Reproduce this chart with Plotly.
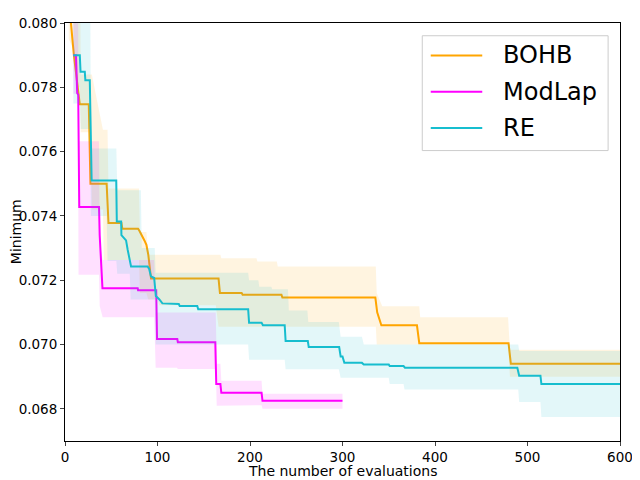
import plotly.graph_objects as go

# Best value found so far (median line) for each optimiser
bohb_x = [4, 6.4, 9.6, 11.8, 16, 25.7, 27.5, 45, 47, 61, 62, 79, 80.4, 86, 88, 90, 93, 166, 167.5, 191, 192, 234, 235,
          335.5, 337.5, 342, 380.5, 383, 479.5, 482, 600]
bohb_y = [0.0812, 0.0800, 0.0790, 0.0785, 0.07747, 0.07747, 0.0750, 0.0750, 0.07378, 0.07378, 0.0736, 0.0736,
          0.07354, 0.07323, 0.0731, 0.0728, 0.07205, 0.07205, 0.0716, 0.0716, 0.07155, 0.07155, 0.07146,
          0.07146, 0.0710, 0.0706, 0.0706, 0.07004, 0.07004, 0.0694, 0.0694]

modlap_x = [9, 11.8, 13.2, 14.3, 15.4, 36.8, 37.5, 38.6, 40.5, 78.6, 79, 98.6, 99.5, 121.4, 122, 162.5, 163.5,
            168, 169, 212.5, 213.5, 300]
modlap_y = [0.0790, 0.0790, 0.07782, 0.07777, 0.07428, 0.07428, 0.0734, 0.07263, 0.07175, 0.07175, 0.07169,
            0.07169, 0.07017, 0.07017, 0.07007, 0.07007, 0.06877, 0.06877, 0.0685, 0.0685, 0.06825, 0.06825]

re_x = [9, 16, 16.8, 21.4, 22, 26.8, 28.8, 55.4, 56, 60.7, 61, 64.3, 66, 67.8, 69.6, 71.4, 89.3, 91, 92.9, 96.4,
        98.2, 101.8, 105.3, 123, 124, 143, 144, 198, 199, 212.5, 214, 237.5, 238.5, 262.5, 263.5, 296.4, 298,
        300, 302, 321, 323, 350, 351, 366, 367.5, 489, 491, 514, 515, 600]
re_y = [0.0790, 0.0790, 0.07848, 0.07848, 0.07822, 0.07822, 0.0751, 0.0751, 0.07383, 0.07383, 0.0734, 0.0733,
        0.07324, 0.07294, 0.07263, 0.07243, 0.07243, 0.07235, 0.07212, 0.07207, 0.07151, 0.07141, 0.07128,
        0.07126, 0.0712, 0.0712, 0.0711, 0.0711, 0.07068, 0.07068, 0.0706, 0.0706, 0.07011, 0.07011, 0.06992,
        0.06992, 0.06963, 0.06963, 0.06943, 0.06943, 0.06938, 0.06938, 0.06933, 0.06933, 0.06928, 0.06928,
        0.06903, 0.06903, 0.06877, 0.06877]

# Shaded spread around each line (lower / upper edge)
bohb_band_x = [4, 12, 13, 16, 17, 28, 29, 41, 42, 46, 47, 80, 81, 88, 90, 100, 102, 163, 166, 168, 169, 207, 208,
               229, 230, 336, 337, 343, 383, 384, 479, 481, 600]
bohb_band_lo = [0.0795, 0.0790, 0.0780, 0.0780, 0.0766, 0.0766, 0.0742, 0.0742, 0.07263, 0.07263, 0.07263, 0.07263,
                0.0716, 0.0716, 0.0714, 0.0714, 0.07122, 0.07122, 0.07055, 0.07055, 0.07055, 0.07055, 0.07055,
                0.07055, 0.07055, 0.07055, 0.07, 0.07, 0.07, 0.07, 0.07, 0.0690, 0.0690]
bohb_band_hi = [0.0830, 0.0830, 0.0830, 0.0830, 0.0784, 0.0784, 0.0784, 0.07668, 0.07668, 0.07668, 0.07485, 0.07485,
                0.0735, 0.0735, 0.07279, 0.07279, 0.07279, 0.07279, 0.07279, 0.07279, 0.07268, 0.07268, 0.07258,
                0.07258, 0.07243, 0.07243, 0.0716, 0.07119, 0.07119, 0.07085, 0.07085, 0.06984, 0.06984]

modlap_band_x = [9, 14, 14.6, 36.7, 37.5, 40.7, 96.4, 98, 121, 122, 163, 164, 168, 169, 212.5, 213.5, 300]
modlap_band_lo = [0.0778, 0.0778, 0.07217, 0.07217, 0.0712, 0.07085, 0.07085, 0.06928, 0.06928, 0.06924,
                  0.06924, 0.0681, 0.0681, 0.06811, 0.06811, 0.0680, 0.0680]
modlap_band_hi = [0.0830, 0.0830, 0.07632, 0.07632, 0.0732, 0.07263, 0.07263, 0.0710, 0.0710, 0.0710, 0.0710,
                  0.0694, 0.0694, 0.06887, 0.06887, 0.06847, 0.06847]

re_band_x = [9, 16, 17, 27, 28, 45, 46, 55.5, 56.5, 70, 71, 82, 83, 97, 98, 198, 199, 209, 210, 223, 224, 237.5,
             238.5, 241, 242, 262, 263, 296, 298, 321, 323, 350, 351, 366, 367, 478, 479, 490, 491, 514, 515, 600]
re_band_lo = [0.0775, 0.0775, 0.0767, 0.0767, 0.0740, 0.0740, 0.0726, 0.0726, 0.0722, 0.0722, 0.0714, 0.0714,
              0.0714, 0.0714, 0.0700, 0.0700, 0.06953, 0.06953, 0.06953, 0.06953, 0.06953, 0.06953, 0.06923,
              0.06923, 0.06923, 0.06923, 0.06923, 0.06923, 0.06897, 0.06897, 0.06897, 0.06897, 0.06877, 0.06877,
              0.0686, 0.0686, 0.0686, 0.0686, 0.06821, 0.06821, 0.06775, 0.06775]
re_band_hi = [0.0830, 0.0830, 0.0830, 0.0830, 0.0761, 0.0761, 0.0761, 0.0761, 0.0748, 0.0748, 0.0748, 0.0748,
              0.0730, 0.0730, 0.07223, 0.07223, 0.0720, 0.0720, 0.0718, 0.0718, 0.07172, 0.07172, 0.07172,
              0.07172, 0.07106, 0.07106, 0.0707, 0.0707, 0.07024, 0.07024, 0.0700, 0.0700, 0.0700, 0.0700,
              0.0700, 0.0700, 0.0700, 0.0700, 0.0698, 0.0698, 0.0698, 0.0698]

names = ["BOHB", "ModLap", "RE"]
colors = ["#ffa500", "#ff00ff", "#17becf"]
fills = ["rgba(255,165,0,0.12)", "rgba(255,0,255,0.12)", "rgba(23,190,207,0.12)"]
lines = [(bohb_x, bohb_y), (modlap_x, modlap_y), (re_x, re_y)]
bands = [(bohb_band_x, bohb_band_lo, bohb_band_hi),
         (modlap_band_x, modlap_band_lo, modlap_band_hi),
         (re_band_x, re_band_lo, re_band_hi)]

fig = go.Figure()

for name, col, fc, (lx, ly), (bx, blo, bhi) in zip(names, colors, fills, lines, bands):
    fig.add_trace(go.Scatter(x=lx, y=ly, mode="lines", name=name,
                             line=dict(color=col, width=2), showlegend=False))
    # polygon: upper edge forward, lower edge back
    fig.add_trace(go.Scatter(x=bx + bx[::-1], y=bhi + blo[::-1], fill="toself",
                             fillcolor=fc, line=dict(width=0), mode="lines",
                             hoverinfo="skip", showlegend=False))

# legend drawn by hand so the line samples match the original length
shapes = [dict(type="rect", xref="paper", yref="paper", x0=0.6437, x1=0.9786, y0=0.6948, y1=0.9695,
               line=dict(color="#cccccc", width=1), fillcolor="rgba(255,255,255,0.8)")]
annotations = []
for i, (name, col) in enumerate(zip(names, colors)):
    yy = 0.9225 - i * 0.0869
    shapes.append(dict(type="line", xref="paper", yref="paper", x0=0.659, x1=0.7518, y0=yy, y1=yy,
                       line=dict(color=col, width=2)))
    annotations.append(dict(text=name, xref="paper", yref="paper", x=0.7857, y=yy,
                            xanchor="left", yanchor="middle", showarrow=False,
                            font=dict(size=24, color="black")))

annotations.append(dict(text="The number of evaluations", xref="paper", yref="paper", x=0.5, y=-0.0725,
                        xanchor="center", yanchor="middle", showarrow=False, font=dict(size=14)))
annotations.append(dict(text="Minimum", xref="paper", yref="paper", x=-0.088, y=0.5, textangle=-90,
                        xanchor="center", yanchor="middle", showarrow=False, font=dict(size=14)))

# page body has an 8px margin, so the figure is sized/offset to land where the original axes are
fig.update_layout(
    width=632, height=472,
    margin=dict(l=57, r=15, t=7, b=39),
    plot_bgcolor="white", paper_bgcolor="white",
    font=dict(family="DejaVu Sans", size=13.5, color="black"),
    shapes=shapes, annotations=annotations,
    xaxis=dict(range=[0, 600], tickvals=[0, 100, 200, 300, 400, 500, 600], showgrid=False, zeroline=False,
               showline=True, linecolor="black", linewidth=1, mirror=True, ticks="outside", ticklen=4,
               ticklabeloverflow="allow"),
    yaxis=dict(range=[0.067, 0.080], tickvals=[0.068, 0.070, 0.072, 0.074, 0.076, 0.078, 0.080],
               tickformat=".3f", showgrid=False, zeroline=False, ticklabeloverflow="allow",
               showline=True, linecolor="black", linewidth=1, mirror=True, ticks="outside", ticklen=4),
)

fig.write_html("out.html")
